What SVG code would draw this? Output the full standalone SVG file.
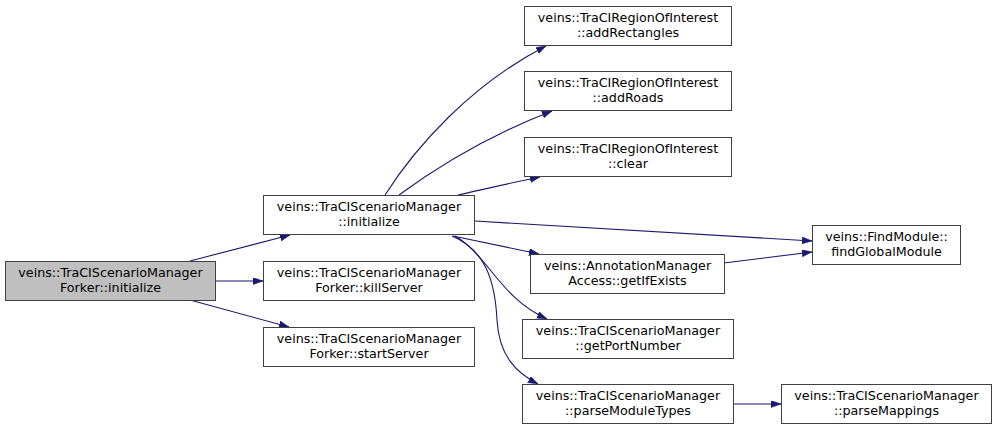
<svg xmlns="http://www.w3.org/2000/svg" width="997" height="431" viewBox="0 0 997 431">
<style>
.box{fill:#ffffff;stroke:#404040;stroke-width:1}
.root{fill:#bfbfbf;stroke:#404040;stroke-width:1}
text{font-family:"DejaVu Sans",sans-serif;font-size:12.7px;fill:#000000;text-anchor:middle}
.edge{fill:none;stroke:#191970;stroke-width:1.1}
</style>
<defs>
<marker id="ah" markerUnits="userSpaceOnUse" markerWidth="11" markerHeight="8" refX="10" refY="3.5" orient="auto">
<path d="M0,0 L10,3.5 L0,7 z" fill="#191970" stroke="#191970" stroke-width="0.5"/>
</marker>
</defs>
<rect width="997" height="431" fill="#ffffff"/>
<g id="edges">
<path class="edge" marker-end="url(#ah)" d="M190,261 L290,235"/>
<path class="edge" marker-end="url(#ah)" d="M216,281 L263,281"/>
<path class="edge" marker-end="url(#ah)" d="M190,300 L289,327"/>
<path class="edge" marker-end="url(#ah)" d="M385,195 C415,148 470,85 546,46"/>
<path class="edge" marker-end="url(#ah)" d="M399,195 C440,165 490,135 552,111"/>
<path class="edge" marker-end="url(#ah)" d="M458,195 C485,189 510,183 540,177"/>
<path class="edge" marker-end="url(#ah)" d="M475,221 L812,241"/>
<path class="edge" marker-end="url(#ah)" d="M453,236 L539,254"/>
<path class="edge" marker-end="url(#ah)" d="M455,236 C488,255 500,298 547,319"/>
<path class="edge" marker-end="url(#ah)" d="M452,236 C485,250 495,280 497,320 C499,355 515,372 538,384"/>
<path class="edge" marker-end="url(#ah)" d="M724,263 L812,252"/>
<path class="edge" marker-end="url(#ah)" d="M733,404 L781,404"/>
</g>
<g id="forker_initialize">
<rect class="root" x="5.5" y="261.5" width="210" height="39"/>
<text x="110.5" y="277">veins::TraCIScenarioManager</text>
<text x="110.5" y="291.5">Forker::initialize</text>
</g>
<g id="scenario_initialize">
<rect class="box" x="263.5" y="195.5" width="211" height="39"/>
<text x="369" y="211">veins::TraCIScenarioManager</text>
<text x="369" y="225.5">::initialize</text>
</g>
<g id="forker_killServer">
<rect class="box" x="263.5" y="261.5" width="211" height="39"/>
<text x="369" y="277">veins::TraCIScenarioManager</text>
<text x="369" y="291.5">Forker::killServer</text>
</g>
<g id="forker_startServer">
<rect class="box" x="263.5" y="327.5" width="211" height="39"/>
<text x="369" y="343">veins::TraCIScenarioManager</text>
<text x="369" y="357.5">Forker::startServer</text>
</g>
<g id="roi_addRectangles">
<rect class="box" x="524.5" y="6.5" width="207" height="39"/>
<text x="628" y="22">veins::TraCIRegionOfInterest</text>
<text x="628" y="36.5">::addRectangles</text>
</g>
<g id="roi_addRoads">
<rect class="box" x="524.5" y="71.5" width="207" height="39"/>
<text x="628" y="87">veins::TraCIRegionOfInterest</text>
<text x="628" y="101.5">::addRoads</text>
</g>
<g id="roi_clear">
<rect class="box" x="524.5" y="137.5" width="207" height="39"/>
<text x="628" y="153">veins::TraCIRegionOfInterest</text>
<text x="628" y="167.5">::clear</text>
</g>
<g id="annotation_getIfExists">
<rect class="box" x="530.5" y="254.5" width="194" height="39"/>
<text x="627.5" y="270">veins::AnnotationManager</text>
<text x="627.5" y="284.5">Access::getIfExists</text>
</g>
<g id="scenario_getPortNumber">
<rect class="box" x="522.5" y="319.5" width="211" height="39"/>
<text x="628" y="335">veins::TraCIScenarioManager</text>
<text x="628" y="349.5">::getPortNumber</text>
</g>
<g id="scenario_parseModuleTypes">
<rect class="box" x="522.5" y="384.5" width="211" height="39"/>
<text x="628" y="400">veins::TraCIScenarioManager</text>
<text x="628" y="414.5">::parseModuleTypes</text>
</g>
<g id="findmodule_findGlobalModule">
<rect class="box" x="812.5" y="225.5" width="148" height="39"/>
<text x="886.5" y="241">veins::FindModule::</text>
<text x="886.5" y="255.5">findGlobalModule</text>
</g>
<g id="scenario_parseMappings">
<rect class="box" x="781.5" y="384.5" width="210" height="39"/>
<text x="886.5" y="400">veins::TraCIScenarioManager</text>
<text x="886.5" y="414.5">::parseMappings</text>
</g>
</svg>
